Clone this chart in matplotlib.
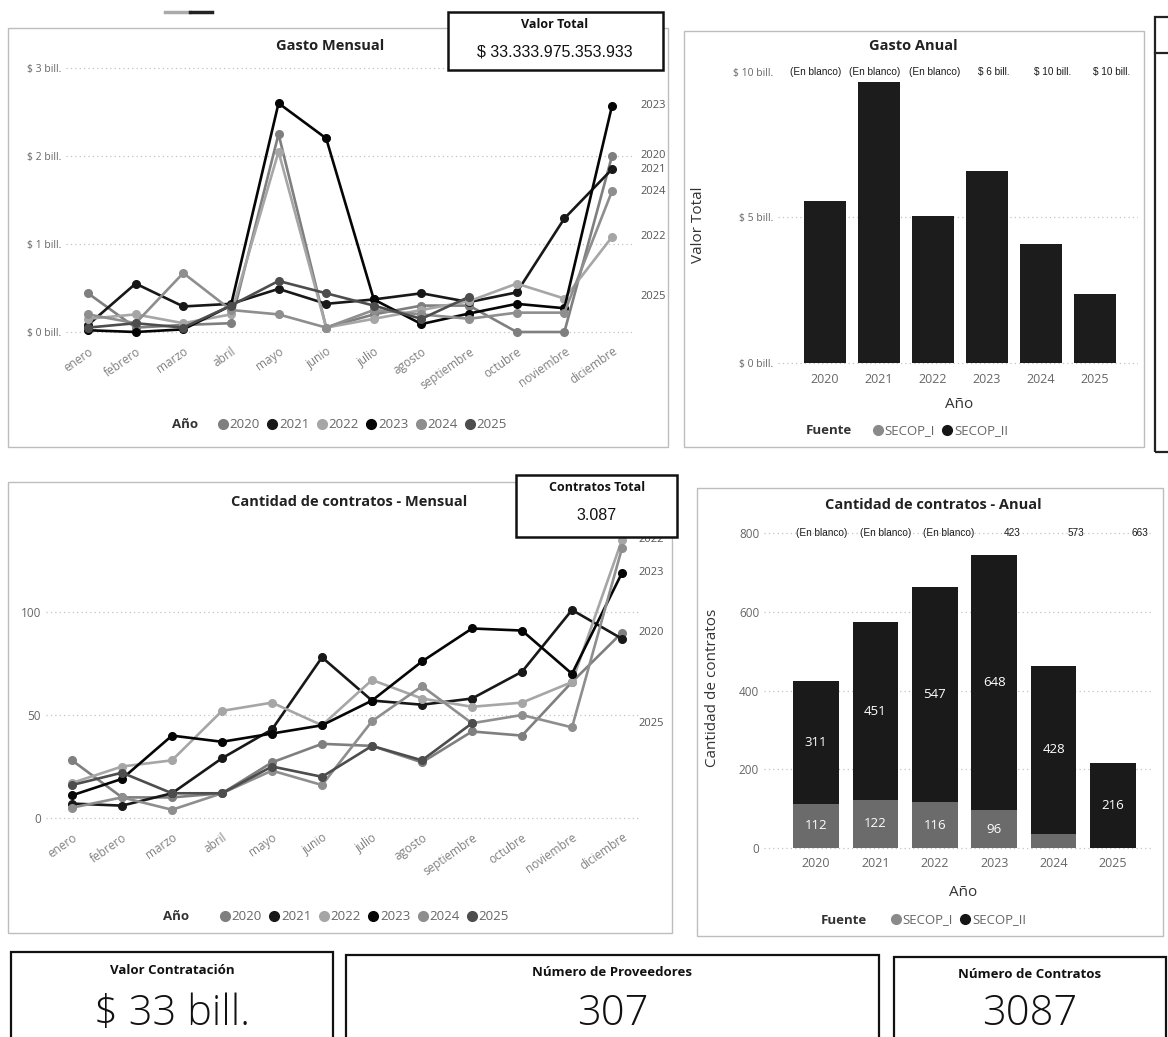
import numpy as np
import matplotlib.pyplot as plt
from matplotlib.patches import Rectangle
from matplotlib.lines import Line2D

W, H = 1168, 1037

meses = ['enero', 'febrero', 'marzo', 'abril', 'mayo', 'junio', 'julio',
         'agosto', 'septiembre', 'octubre', 'noviembre', 'diciembre']
anios = ['2020', '2021', '2022', '2023', '2024', '2025']
nan = np.nan

# gasto mensual (billones de pesos)
gasto_2020 = [0.44, 0.05, 0.08, 0.10, 2.25, 0.05, 0.20, 0.30, 0.30, 0.00, 0.00, 2.00]
gasto_2021 = [0.08, 0.55, 0.29, 0.32, 0.49, 0.32, 0.37, 0.44, 0.34, 0.45, 1.29, 1.85]
gasto_2022 = [0.15, 0.20, 0.10, 0.20, 2.05, 0.05, 0.15, 0.25, 0.35, 0.55, 0.38, 1.08]
gasto_2023 = [0.02, 0.00, 0.03, 0.30, 2.60, 2.20, 0.37, 0.09, 0.21, 0.32, 0.27, 2.57]
gasto_2024 = [0.20, 0.10, 0.67, 0.25, 0.20, 0.05, 0.25, 0.20, 0.15, 0.22, 0.22, 1.60]
gasto_2025 = [0.05, 0.10, 0.05, 0.30, 0.58, 0.44, 0.30, 0.15, 0.40, nan, nan, nan]

# cantidad de contratos mensual
cnt_2020 = [28, 10, 10, 12, 27, 36, 35, 27, 42, 40, 66, 90]
cnt_2021 = [7, 6, 12, 29, 43, 78, 57, 55, 58, 71, 101, 87]
cnt_2022 = [17, 25, 28, 52, 56, 45, 67, 58, 54, 56, 66, 135]
cnt_2023 = [11, 19, 40, 37, 41, 45, 57, 76, 92, 91, 70, 119]
cnt_2024 = [5, 10, 4, 12, 23, 16, 47, 64, 46, 50, 44, 131]
cnt_2025 = [16, 22, 12, 12, 25, 20, 35, 28, 46, nan, nan, nan]
cnt_etiquetas = ['2022', '2023', '2020', '2025']

# anual
gasto_anual = [5.55, 9.65, 5.05, 6.60, 4.10, 2.38]
gasto_top = ['(En blanco)', '(En blanco)', '(En blanco)', '$ 6 bill.', '$ 10 bill.', '$ 10 bill.']
secop_i = [112, 122, 116, 96, 35, 0]
secop_ii = [311, 451, 547, 648, 428, 216]
cnt_top = ['(En blanco)', '(En blanco)', '(En blanco)', '423', '573', '663']

colores = {'2020': '#7f7f7f', '2021': '#181818', '2022': '#a6a6a6',
           '2023': '#050505', '2024': '#8e8e8e', '2025': '#4d4d4d'}
GRIS = '#666666'

plt.rcParams['font.family'] = ['Open Sans', 'DejaVu Sans']
fig = plt.figure(figsize=(W / 100, H / 100), dpi=100)


def fx(x):
    return x / W


def fy(y):
    return 1 - y / H


def px_ax(left, top, right, bottom, xref, yref):
    ax = fig.add_axes([fx(left), fy(bottom), (right - left) / W, (bottom - top) / H])
    (d0, p0), (d1, p1) = xref
    s = (p1 - p0) / (d1 - d0)
    ax.set_xlim(d0 + (left - p0) / s, d0 + (right - p0) / s)
    (d0, p0), (d1, p1) = yref
    s = (p1 - p0) / (d1 - d0)
    ax.set_ylim(d0 + (bottom - p0) / s, d0 + (top - p0) / s)
    for sp in ax.spines.values():
        sp.set_visible(False)
    ax.tick_params(length=0, colors=GRIS)
    ax.set_facecolor('none')
    return ax


def caja(l, t, r, b, ec='#bdbdbd', lw=1.0, fc='none', z=1):
    fig.patches.append(Rectangle((fx(l), fy(b)), (r - l) / W, (b - t) / H,
                                 transform=fig.transFigure, fill=fc != 'none',
                                 facecolor=fc, edgecolor=ec, lw=lw, zorder=z))


def grid(ax, vals):
    for v in vals:
        ax.axhline(v, color='#c4c4c4', lw=0.9, ls=(0, (1, 2.5)), zorder=0)


def leyenda(titulo, etiquetas, cols, tx, ty, cx):
    fig.text(fx(tx), fy(ty), titulo, fontsize=9.5, fontweight='bold',
             color='#333333', va='center', ha='left')
    hs = [Line2D([], [], marker='o', ls='', color=c, ms=7) for c in cols]
    fig.legend(hs, etiquetas, ncol=len(hs), loc='center',
               bbox_to_anchor=(fx(cx), fy(ty)), frameon=False, fontsize=9.5,
               labelcolor=GRIS, handletextpad=0.05, columnspacing=0.5,
               handlelength=0.9, borderaxespad=0, borderpad=0)


# paneles
caja(8, 28, 668, 447)
caja(684, 31, 1144, 447)
caja(8, 482, 672, 933)
caja(697, 488, 1163, 936)
caja(1155, 17, 1200, 452, ec='#222222', lw=1.6)
fig.add_artist(Line2D([fx(1155), 1], [fy(53), fy(53)], color='#222222', lw=1.6))
fig.add_artist(Line2D([fx(165), fx(190)], [fy(12), fy(12)], color='#aaaaaa', lw=2.5))
fig.add_artist(Line2D([fx(190), fx(212)], [fy(12), fy(12)], color='#222222', lw=2.5))

# ---- Gasto Mensual
ax1 = px_ax(66, 60, 632, 340, ((0, 88), (11, 612)), ((0, 332), (3, 68)))
grid(ax1, [0, 1, 2, 3])
gastos = [gasto_2020, gasto_2021, gasto_2022, gasto_2023, gasto_2024, gasto_2025]
for a, g in zip(anios, gastos):
    ax1.plot(range(12), g, color=colores[a], lw=1.9, marker='o', ms=5.5, zorder=3)
    v = np.array(g, dtype=float)
    ax1.text(11.6, v[~np.isnan(v)][-1], a, fontsize=8, color='#555555', va='center')
ax1.set_yticks([0, 1, 2, 3])
ax1.set_yticklabels([f'$ {v} bill.' for v in [0, 1, 2, 3]], fontsize=7.5)
ax1.set_xticks(range(12))
ax1.set_xticklabels(meses, rotation=35, ha='right', rotation_mode='anchor',
                    fontsize=8.5, color='#808080')
fig.text(fx(330), fy(46), 'Gasto Mensual', fontsize=10.5, fontweight='bold',
         ha='center', va='center', color='#222222')
leyenda('Año', anios, [colores[a] for a in anios], 172, 425, 362)

caja(448, 12, 663, 70, ec='#111111', lw=1.8, fc='white', z=2)
fig.text(fx(555), fy(24), 'Valor Total', fontsize=9, fontweight='bold', ha='center',
         va='center', color='#111111', zorder=4)
fig.text(fx(555), fy(52), '$ 33.333.975.353.933', fontsize=11.5, ha='center',
         va='center', color='#111111', family='Liberation Sans', zorder=4)

# ---- Gasto Anual
ax2 = px_ax(778, 60, 1138, 368, ((0, 825), (5, 1095)), ((0, 363), (10, 72)))
grid(ax2, [0, 5])
ax2.bar(range(6), gasto_anual, width=0.78, color='#1c1c1c', zorder=2)
ax2.set_yticks([0, 5, 10])
ax2.set_yticklabels([f'$ {v} bill.' for v in [0, 5, 10]], fontsize=7.5)
ax2.set_xticks(range(6))
ax2.set_xticklabels(anios, fontsize=9)
for i, t in enumerate(gasto_top):
    ax2.text(i * 1.096 - 0.17, 10, t, fontsize=7.2, ha='center', va='center',
             color='#1a1a1a', family='Liberation Sans')
fig.text(fx(913), fy(46), 'Gasto Anual', fontsize=10.5, fontweight='bold',
         ha='center', va='center', color='#222222')
fig.text(fx(698), fy(225), 'Valor Total', fontsize=11, rotation=90, ha='center',
         va='center', color='#333333')
fig.text(fx(959), fy(404), 'Año', fontsize=11, ha='center', va='center', color='#333333')
leyenda('Fuente', ['SECOP_I', 'SECOP_II'], ['#8a8a8a', '#151515'], 806, 431, 940)

# ---- Cantidad de contratos - Mensual
ax3 = px_ax(46, 530, 640, 826, ((0, 72), (11, 622)), ((0, 818), (100, 612)))
grid(ax3, [0, 50, 100])
cnts = [cnt_2020, cnt_2021, cnt_2022, cnt_2023, cnt_2024, cnt_2025]
for a, c in zip(anios, cnts):
    ax3.plot(range(12), c, color=colores[a], lw=1.9, marker='o', ms=5.5, zorder=3)
    v = np.array(c, dtype=float)
    if a in cnt_etiquetas:
        ax3.text(11.32, v[~np.isnan(v)][-1], a, fontsize=8, color='#555555', va='center')
ax3.set_yticks([0, 50, 100])
ax3.set_yticklabels(['0', '50', '100'], fontsize=8.5)
ax3.set_xticks(range(12))
ax3.set_xticklabels(meses, rotation=35, ha='right', rotation_mode='anchor',
                    fontsize=8.5, color='#808080')
fig.text(fx(349), fy(502), 'Cantidad de contratos - Mensual', fontsize=10.5,
         fontweight='bold', ha='center', va='center', color='#222222')
leyenda('Año', anios, [colores[a] for a in anios], 163, 917, 364)

caja(516, 475, 677, 537, ec='#111111', lw=1.8, fc='white', z=2)
fig.text(fx(597), fy(487), 'Contratos Total', fontsize=9, fontweight='bold',
         ha='center', va='center', color='#111111', zorder=4)
fig.text(fx(597), fy(516), '3.087', fontsize=11.5, ha='center', va='center',
         color='#111111', family='Liberation Sans', zorder=4)

# ---- Cantidad de contratos - Anual
ax4 = px_ax(764, 522, 1152, 852, ((0, 816), (5, 1113)), ((0, 848), (800, 533)))
grid(ax4, [0, 200, 400, 600, 800])
ax4.bar(range(6), secop_i, width=0.77, color='#6b6b6b', zorder=2)
ax4.bar(range(6), secop_ii, bottom=secop_i, width=0.77, color='#1a1a1a', zorder=2)
for i in range(6):
    if secop_i[i] > 50:
        ax4.text(i, secop_i[i] / 2, str(secop_i[i]), ha='center', va='center',
                 fontsize=9.5, color='white', zorder=3)
    ax4.text(i, secop_i[i] + secop_ii[i] / 2, str(secop_ii[i]), ha='center',
             va='center', fontsize=9.5, color='white', zorder=3)
for i, t in enumerate(cnt_top):
    ax4.text(i * 1.07 + 0.1, 800, t, fontsize=7.2, ha='center', va='center',
             color='#1a1a1a', family='Liberation Sans')
ax4.set_yticks([0, 200, 400, 600, 800])
ax4.set_yticklabels(['0', '200', '400', '600', '800'], fontsize=8.5)
ax4.set_xticks(range(6))
ax4.set_xticklabels(anios, fontsize=9)
fig.text(fx(933), fy(505), 'Cantidad de contratos - Anual', fontsize=10.5,
         fontweight='bold', ha='center', va='center', color='#222222')
fig.text(fx(713), fy(688), 'Cantidad de contratos', fontsize=11, rotation=90,
         ha='center', va='center', color='#333333')
fig.text(fx(963), fy(892), 'Año', fontsize=11, ha='center', va='center', color='#333333')
leyenda('Fuente', ['SECOP_I', 'SECOP_II'], ['#8a8a8a', '#151515'], 821, 920, 958)

# ---- tarjetas
tarjetas = [('Valor Contratación', '$ 33 bill.', 11, 333),
            ('Número de Proveedores', '307', 346, 879),
            ('Número de Contratos', '3087', 894, 1166)]
tops = [952, 955, 957]
for (tit, val, l, r), t in zip(tarjetas, tops):
    caja(l, t, r, 1060, ec='#111111', lw=1.6)
    fig.text(fx((l + r) / 2), fy(t + 18), tit, fontsize=9.5, fontweight='bold',
             ha='center', va='center', color='#111111')
    fig.text(fx((l + r) / 2), fy(1035), val, fontsize=30, fontweight='light',
             ha='center', va='bottom', color='#111111')

fig.savefig('out.png', dpi=100, facecolor='white')
